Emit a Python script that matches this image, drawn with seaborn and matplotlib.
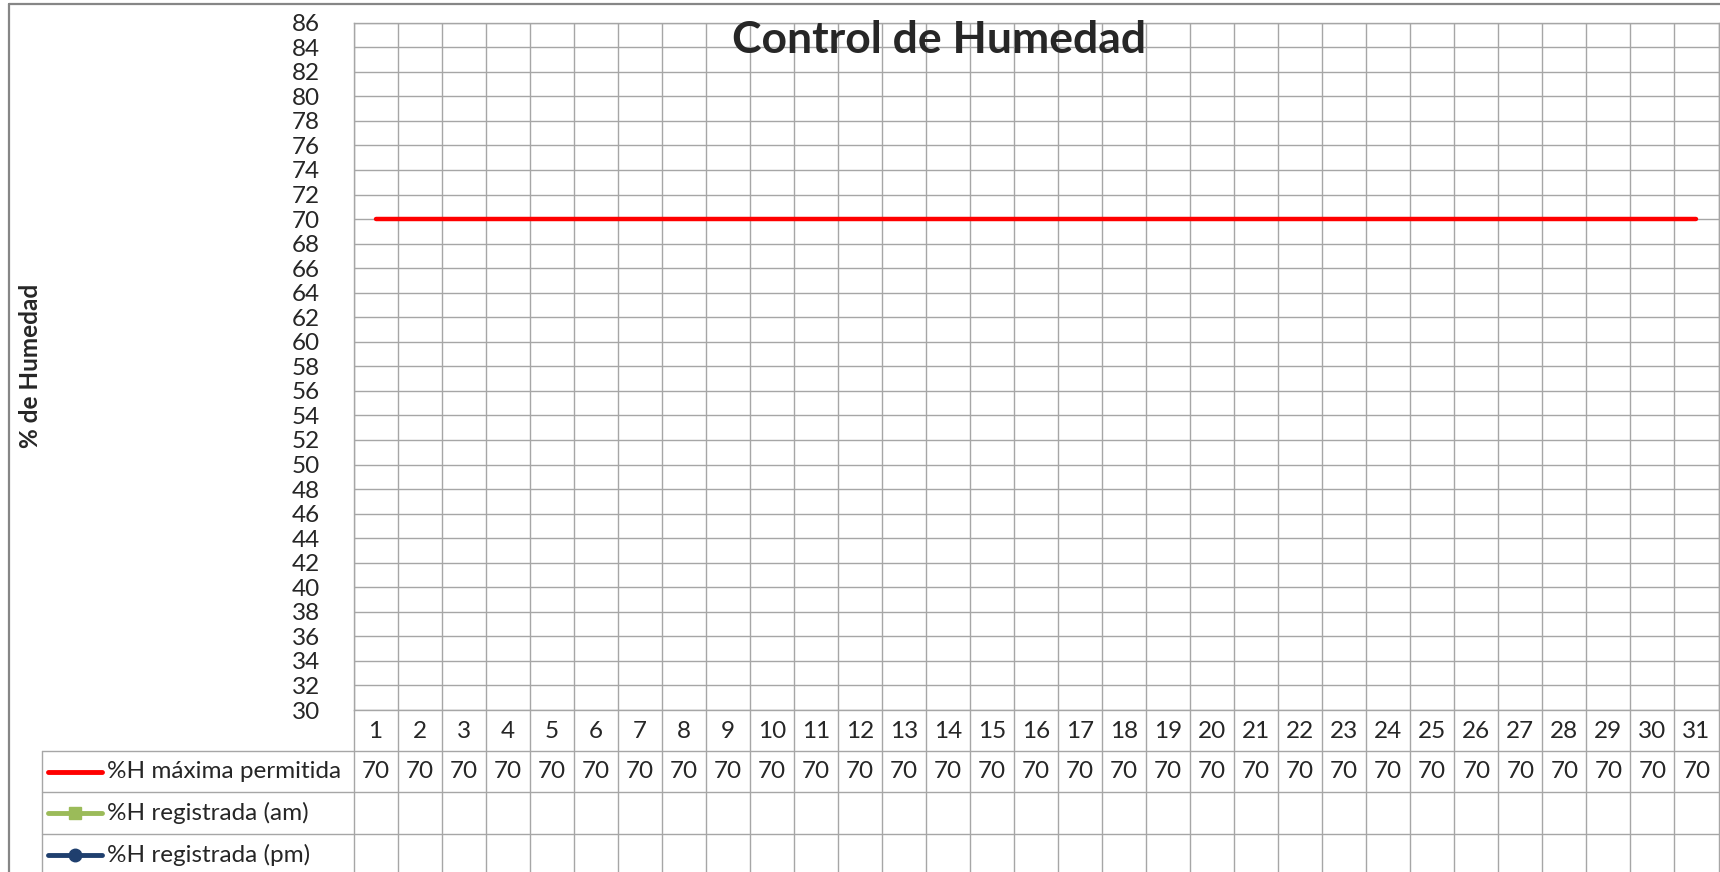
import matplotlib
matplotlib.use("Agg")
from matplotlib import pyplot as plt
from matplotlib.lines import Line2D
import numpy as np
import pandas as pd
import seaborn as sns

# data
dias = list(range(1, 32))
h_maxima = [70] * 31
h_am = [None] * 31
h_pm = [None] * 31
series = ["%H máxima permitida", "%H registrada (am)", "%H registrada (pm)"]
colores = ["#FF0000", "#9BBB59", "#1F3F6E"]
marcadores = [None, "s", "o"]
y_ticks = list(range(30, 87, 2))

sns.set_style("white")
plt.rcParams['font.family'] = ['Lato', 'DejaVu Sans']

W, H = 1720, 872
fig = plt.figure(figsize=(W / 100, H / 100), dpi=100)

# pixel layout (from reference)
plot_l, plot_r, plot_t, plot_b = 353.5, 1718.5, 22.7, 710.0
tab_l = 42.0
col_w = (plot_r - plot_l) / len(dias)
grid_c = "#A6A6A6"
FS = 17.5


def fx(px):
    return px / W


def fy(py):
    return 1 - py / H


ax = fig.add_axes([fx(plot_l), fy(plot_b), fx(plot_r - plot_l), (plot_b - plot_t) / H])
df = pd.DataFrame({"dia": dias, "maxima": h_maxima,
                   "am": pd.to_numeric(pd.Series(h_am), errors="coerce"),
                   "pm": pd.to_numeric(pd.Series(h_pm), errors="coerce")})
sns.lineplot(data=df, x="dia", y="maxima", color=colores[0], lw=3.2,
             solid_capstyle="round", ax=ax, zorder=3)
if df["am"].notna().any():
    sns.lineplot(data=df, x="dia", y="am", color=colores[1], marker="s", lw=3, ax=ax)
if df["pm"].notna().any():
    sns.lineplot(data=df, x="dia", y="pm", color=colores[2], marker="o", lw=3, ax=ax)

ax.set_xlim(0.5, len(dias) + 0.5)
ax.set_ylim(30, 86)
ax.set_yticks(y_ticks)
ax.set_yticklabels([str(v) for v in y_ticks], fontsize=FS)
ax.set_xticks([])
ax.set_xticks(np.arange(0.5, len(dias) + 1, 1), minor=True)
ax.grid(True, which="major", axis="y", color=grid_c, lw=1.0)
ax.grid(True, which="minor", axis="x", color=grid_c, lw=1.0)
ax.tick_params(axis="y", length=0, pad=24)
ax.tick_params(axis="x", which="both", length=0)
ax.set_xlabel("")
ax.set_ylabel("")
for s in ax.spines.values():
    s.set_color(grid_c)
    s.set_linewidth(1.0)

# data table under the plot
tab = fig.add_axes([fx(tab_l), 0, fx(plot_r - tab_l), (H - plot_b) / H])
x_left = 0.5 - (plot_l - tab_l) / col_w
tab.set_xlim(x_left, len(dias) + 0.5)
tab.set_ylim(H - plot_b, 0)
tab.axis("off")

row_b = [40.7, 82.4, 124.1, 165.8]
for xb in np.arange(0.5, len(dias) + 1, 1):
    tab.plot([xb, xb], [0, row_b[-1]], color=grid_c, lw=1.0, clip_on=False)
for yb in row_b[:-1]:
    tab.plot([x_left, len(dias) + 0.5], [yb, yb], color=grid_c, lw=1.0, clip_on=False)
tab.plot([x_left, x_left], [row_b[0], row_b[-1]], color=grid_c, lw=1.0, clip_on=False)

for d in dias:
    tab.text(d, row_b[0] / 2 + 1, str(d), ha="center", va="center", fontsize=FS)

valores = [h_maxima, h_am, h_pm]
for i, (nombre, vals) in enumerate(zip(series, valores)):
    yc = (row_b[i] + row_b[i + 1]) / 2
    x0 = 0.5 - (plot_l - 48) / col_w
    x1 = 0.5 - (plot_l - 102) / col_w
    tab.add_line(Line2D([x0, x1], [yc, yc], color=colores[i], lw=3.5,
                        solid_capstyle="round", clip_on=False))
    if marcadores[i]:
        tab.add_line(Line2D([(x0 + x1) / 2], [yc], color=colores[i],
                            marker=marcadores[i], markersize=9, clip_on=False))
    tab.text(0.5 - (plot_l - 107) / col_w, yc, nombre, ha="left", va="center", fontsize=FS)
    for d, v in zip(dias, vals):
        if v is not None:
            tab.text(d, yc, str(v), ha="center", va="center", fontsize=FS)

fig.text(fx(939), fy(40), "Control de Humedad", ha="center", va="center",
         fontsize=32, fontweight="bold")
fig.text(fx(31), fy(366), "% de Humedad", ha="center", va="center",
         rotation=90, fontsize=17.5, fontweight="bold")

# outer chart border
fig.add_artist(Line2D([fx(9), 1], [fy(4.5), fy(4.5)], color="#868686", lw=1.6))
fig.add_artist(Line2D([fx(9), fx(9)], [fy(4.5), 0], color="#868686", lw=1.6))

fig.savefig("out.png", dpi=100, facecolor="white")
